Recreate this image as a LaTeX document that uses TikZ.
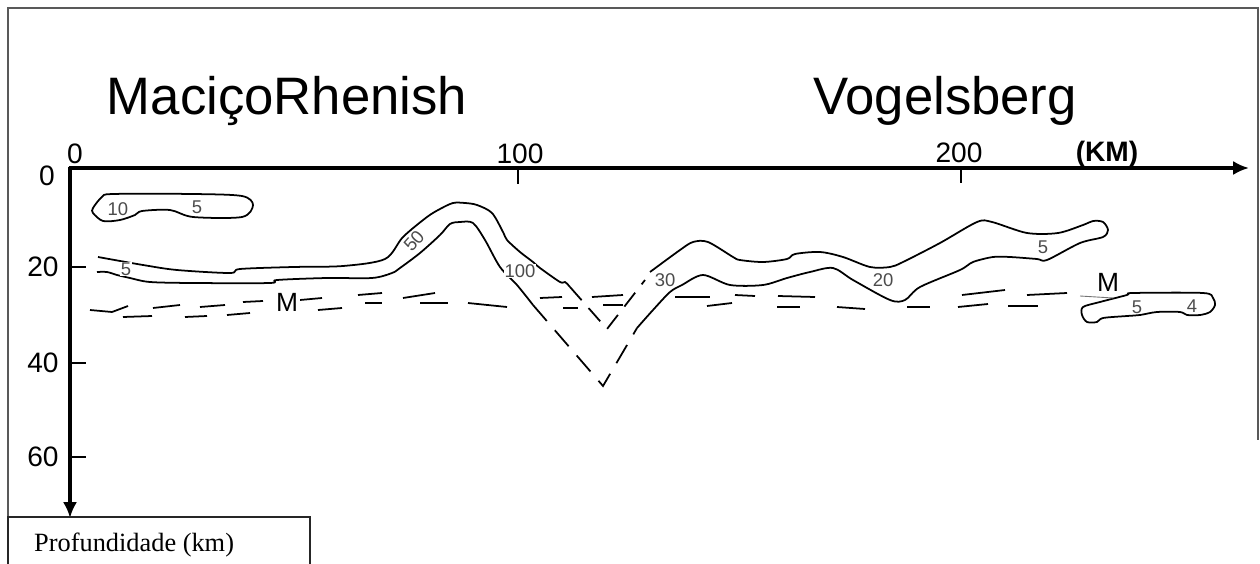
\documentclass[tikz,border=0pt]{standalone}
\usepackage{fontspec}
\setmainfont{Liberation Sans}
\newfontfamily\timesfont{Liberation Serif}
\usetikzlibrary{arrows.meta}

\tikzset{
  kmaxis/.style={line width=2.6pt, -{Latex[length=9pt,width=8pt]}},
  axtick/.style={line width=1.6pt},
  contour/.style={line width=1pt, line join=round},
  moho/.style={line width=1pt},
  iso/.style={fill=white, inner sep=.5pt, text=black!70, font=\fontsize{10.5}{12}\selectfont},
  num/.style={font=\fontsize{16}{18}\selectfont},
}

\begin{document}
\begin{tikzpicture}[x=0.02cm, y=-0.02cm]
  \useasboundingbox (0,0) rectangle (1260,564);
  \draw[black!65, line width=.8pt] (8,517) -- (8,8) -- (1258,8) -- (1258,440);

  \node[font=\fontsize{30}{36}\selectfont, anchor=base] (rhenish) at (287,115) {MaciçoRhenish};
  \node[font=\fontsize{30}{36}\selectfont, anchor=base] (vogel) at (945,115) {Vogelsberg};

  % axes
  \draw[kmaxis] (68.7,168) -- (1249,168);
  \draw[kmaxis] (70,166.7) -- (70,518);
  \draw[axtick] (518,168) -- (518,184);
  \draw[axtick] (961,168) -- (961,183);
  \foreach \y in {267,363,457}
    \draw[axtick] (70,\y) -- (86,\y);

  \node[num] (x0) at (75,154) {0};
  \node[num] (x100) at (520,154) {100};
  \node[num] (x200) at (959,153) {200};
  \node[font=\bfseries\fontsize{16}{18}\selectfont] (km) at (1107,154) {(KM)};
  \node[num] (y0) at (47,176) {0};
  \node[num] (y20) at (43,267) {20};
  \node[num] (y40) at (43,363) {40};
  \node[num] (y60) at (43,457) {60};

  % isolines
  \draw[contour] plot[smooth cycle, tension=.5] coordinates {
    (93,208) (102,197) (113,194) (193,194) (242,196) (253,205) (242,217)
    (193,217) (170,210) (142,211) (135,215) (120,220) (103,221) (93,213)};
  \draw[contour] plot[smooth, tension=.5] coordinates {
    (98,257) (143,265) (177,270) (230,273) (240,269) (293,267) (343,266)
    (385,259) (403,237) (427,217) (440,209) (453,203) (465,203) (477,205)
    (492,213) (503,232) (507,240) (520,252) (533,262) (540,268) (560,282)
    (565,282) (570,287)};
  \draw[contour] plot[smooth, tension=.5] coordinates {
    (97,272) (107,272) (117,275) (130,278) (150,282) (193,283) (270,283)
    (277,280) (327,278) (372,278) (392,273) (400,268) (420,253) (440,235)
    (450,224) (460,222) (473,223) (485,240) (500,267) (517,285) (533,305)};
  \draw[contour] plot[smooth, tension=.5] coordinates {
    (637,328) (653,310) (670,292) (682,285) (703,275) (730,285) (763,285)
    (787,278) (810,272) (833,268) (853,280) (890,300) (905,300) (920,287)
    (960,270) (973,262) (993,257) (1010,257) (1037,259) (1047,260)
    (1080,243) (1103,237) (1108,230) (1103,222) (1093,221) (1083,225)
    (1058,233) (1027,233) (992,222) (977,222) (940,243) (903,262) (890,267)
    (870,267) (843,257) (820,252) (795,254) (787,259) (763,262) (740,260)
    (733,257) (708,242) (693,242) (680,250) (650,272)};
  \draw[contour] plot[smooth cycle, tension=.5] coordinates {
    (1083,307) (1100,302) (1127,295) (1133,293) (1203,293) (1213,298)
    (1215,305) (1210,312) (1200,315) (1187,315) (1180,312) (1157,312)
    (1140,315) (1127,316) (1103,318) (1097,322) (1087,322) (1082,315)};

  % dipping parts
  \draw[moho, dash pattern=on 12pt off 7pt] (533,305) -- (603,386) -- (637,328);
  \draw[moho, dash pattern=on 10pt off 6pt] (570,287) -- (607,329) -- (645,280);

  % Moho dashes
  \foreach \xa/\ya/\xb/\yb in {
    90/310/112/312, 112/312/128/306, 123/317/152/316, 153/308/180/305,
    185/317/207/316, 200/307/225/305, 227/315/250/313, 243/302/263/301,
    300/300/322/298, 318/310/342/308, 358/295/382/293, 365/303/382/303,
    403/298/435/293, 420/303/448/303, 468/303/507/307, 540/298/562/297,
    563/308/578/308, 592/297/623/295, 603/305/623/305, 675/297/710/297,
    707/306/732/303, 735/295/755/296, 778/296/815/297, 777/307/800/307,
    837/307/865/309, 907/307/930/307, 958/307/988/304, 962/295/1005/290,
    1027/295/1067/293, 1008/306/1038/306}
    \draw[moho] (\xa,\ya) -- (\xb,\yb);
  \draw[black!55, line width=.5pt] (1080,296) -- (1113,298);

  \node[iso] (i10) at (118,209) {10};
  \node[iso] (i5a) at (197,207) {5};
  \node[iso] (i5b) at (126,269) {5};
  \node[iso, rotate=48, inner sep=0pt] (i50) at (414,241) {50};
  \node[iso] (i100) at (520,271) {100};
  \node[iso] (i30) at (665,280) {30};
  \node[iso] (i20) at (883,280) {20};
  \node[iso] (i5c) at (1043,247) {5};
  \node[iso, fill=none] (i5d) at (1137,307) {5};
  \node[iso, fill=none] (i4) at (1192,306) {4};
  \node[font=\fontsize{15}{18}\selectfont, fill=white, inner sep=1pt] (m1) at (287,302) {M};
  \node[font=\fontsize{15}{18}\selectfont] (m2) at (1108,282) {M};

  \draw[black!85, line width=1pt] (8,564) -- (8,517) -- (310,517) -- (310,564);
  \node[font=\timesfont\fontsize{15}{18}\selectfont, anchor=west] (prof) at (28,545) {Profundidade (km)};
\end{tikzpicture}
\end{document}
